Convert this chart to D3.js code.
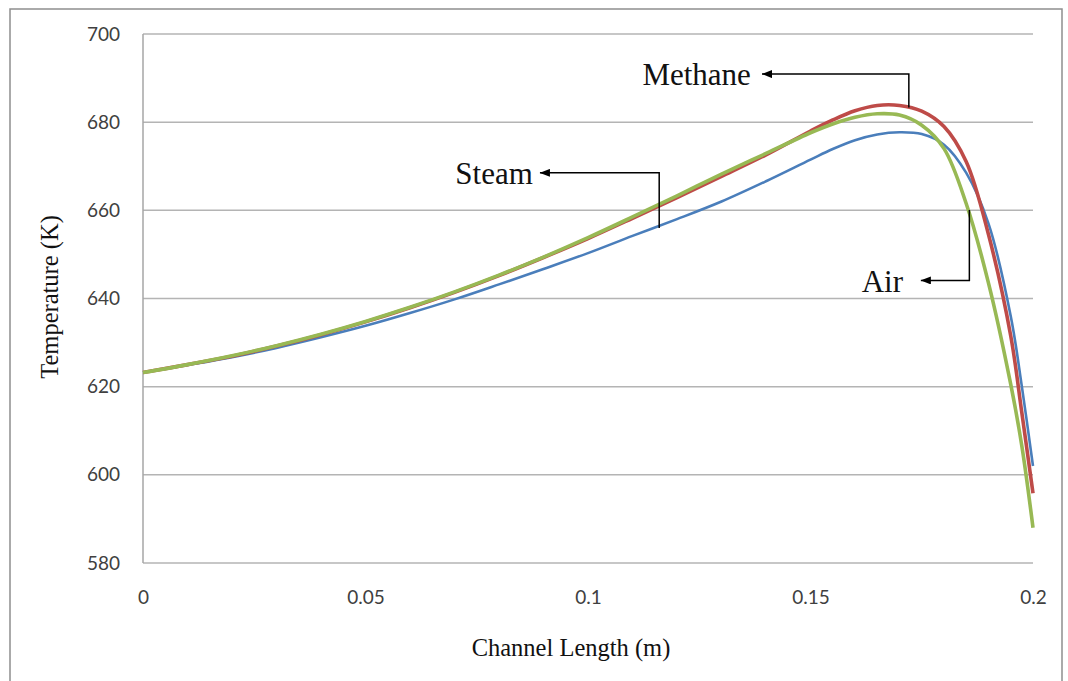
<!DOCTYPE html>
<html>
<head>
<meta charset="utf-8">
<script src="https://cdn.jsdelivr.net/npm/d3@7"></script>
<style>
  html, body { margin: 0; padding: 0; background: #fff; }
  svg { display: block; }
</style>
</head>
<body>
<svg id="chart" width="1068" height="681"></svg>
<script>
// Channel position (m) at which each temperature profile is sampled
const channelLength = [0, 0.01, 0.02, 0.03, 0.04, 0.05, 0.06, 0.07, 0.08, 0.09, 0.10,
  0.11, 0.12, 0.13, 0.14, 0.15, 0.155, 0.16, 0.165, 0.17, 0.175, 0.18, 0.185,
  0.19, 0.195, 0.1975, 0.2];

// Temperature profiles (K)
const steamTemp = [623.2, 624.9, 626.7, 628.8, 631.2, 633.8, 636.7, 639.8, 643.2, 646.7, 650.3,
  654.2, 658.0, 662.0, 666.6, 671.5, 673.9, 675.9, 677.2, 677.7, 677.3, 674.9, 668.5,
  657.0, 636.0, 620.0, 602.0];
const methaneTemp = [623.2, 625.0, 626.9, 629.2, 631.8, 634.7, 637.9, 641.4, 645.2, 649.3, 653.6,
  658.2, 662.9, 667.7, 672.6, 678.0, 680.5, 682.6, 683.8, 683.8, 682.5, 679.0, 671.0,
  654.5, 631.5, 614.0, 595.8];
const airTemp = [623.2, 625.0, 627.0, 629.3, 631.9, 634.8, 638.0, 641.5, 645.3, 649.4, 653.8,
  658.5, 663.3, 668.2, 672.9, 677.6, 679.6, 681.1, 681.9, 681.6, 679.3, 674.0, 661.5,
  643.5, 620.5, 606.5, 588.0];

// Axis ticks
const xTicks = [0, 0.05, 0.1, 0.15, 0.2];
const xTickLabels = ["0", "0.05", "0.1", "0.15", "0.2"];
const yTicks = [580, 600, 620, 640, 660, 680, 700];

// Callouts (data units): label's right end, arrow tip, elbow and end of the leader
const calloutNames = ["Methane", "Steam", "Air"];
const calloutLabelEnd = [0.1366, 0.0876, 0.1708];
const calloutTip = [[0.1391, 690.9], [0.0892, 668.5], [0.1748, 644.1]];
const calloutElbow = [[0.1721, 690.9], [0.1160, 668.5], [0.1857, 644.1]];
const calloutEnd = [[0.1721, 683.3], [0.1160, 656.0], [0.1857, 660.1]];

const svg = d3.select("#chart");
const plot = { left: 143, right: 1033, top: 34, bottom: 563 };

const x = d3.scaleLinear().domain([0, 0.2]).range([plot.left, plot.right]);
const y = d3.scaleLinear().domain([580, 700]).range([plot.bottom, plot.top]);

// Outer chart frame
svg.append("rect")
  .attr("x", 10).attr("y", 9).attr("width", 1052).attr("height", 700)
  .attr("fill", "none").attr("stroke", "#8e8e8e").attr("stroke-width", 1.5);

// Horizontal gridlines
svg.append("g").selectAll("line").data(yTicks).join("line")
  .attr("x1", plot.left).attr("x2", plot.right)
  .attr("y1", d => y(d)).attr("y2", d => y(d))
  .attr("stroke", "#b4b4b4").attr("stroke-width", 1.5);

// Vertical axis line
svg.append("line")
  .attr("x1", plot.left).attr("x2", plot.left).attr("y1", plot.top).attr("y2", plot.bottom)
  .attr("stroke", "#a6a6a6").attr("stroke-width", 1.5);

// Tick labels through D3 axes
const yAxis = svg.append("g").attr("transform", `translate(${plot.left},0)`)
  .call(d3.axisLeft(y).tickValues(yTicks).tickSize(0).tickPadding(23).tickFormat(d3.format("d")));
const xAxis = svg.append("g").attr("transform", `translate(0,${plot.bottom})`)
  .call(d3.axisBottom(x).tickValues(xTicks).tickSize(0).tickPadding(28)
    .tickFormat((d, i) => xTickLabels[i]));
[yAxis, xAxis].forEach(g => {
  g.select(".domain").remove();
  g.selectAll("text").attr("font-family", "Lato, 'Open Sans', sans-serif")
    .attr("font-size", 19).attr("fill", "#404040");
});

// Axis titles
const serif = "'Liberation Serif', 'Times New Roman', serif";
svg.append("text")
  .attr("x", 571).attr("y", 656)
  .attr("text-anchor", "middle")
  .attr("font-family", serif)
  .attr("font-size", 24.5).attr("fill", "#111")
  .text("Channel Length (m)");
svg.append("text")
  .attr("transform", "translate(58,297) rotate(-90)")
  .attr("text-anchor", "middle")
  .attr("font-family", serif)
  .attr("font-size", 24.5).attr("fill", "#111")
  .text("Temperature (K)");

// Temperature curves
const line = d3.line()
  .x((d, i) => x(channelLength[i]))
  .y(d => y(d))
  .curve(d3.curveCatmullRom.alpha(0.5));

const series = [
  { values: steamTemp, color: "#4a7ebb", width: 2.6 },
  { values: methaneTemp, color: "#be4b48", width: 3.6 },
  { values: airTemp, color: "#98b954", width: 3.6 }
];
svg.append("g").selectAll("path").data(series).join("path")
  .attr("d", d => line(d.values))
  .attr("fill", "none")
  .attr("stroke", d => d.color)
  .attr("stroke-width", d => d.width)
  .attr("stroke-linejoin", "round")
  .attr("stroke-linecap", "butt");

// Callouts: elbow leader with arrowhead pointing at the label
svg.append("defs").append("marker")
  .attr("id", "arrowhead")
  .attr("viewBox", "0 0 10 8")
  .attr("refX", 10).attr("refY", 4)
  .attr("markerWidth", 10).attr("markerHeight", 8)
  .attr("markerUnits", "userSpaceOnUse")
  .attr("orient", "auto")
  .append("path").attr("d", "M0,0 L10,4 L0,8 Z").attr("fill", "#000");

const callouts = svg.append("g");
calloutNames.forEach((name, i) => {
  const tip = calloutTip[i], elbow = calloutElbow[i], end = calloutEnd[i];
  callouts.append("path")
    .attr("d", `M${x(end[0])},${y(end[1])} L${x(elbow[0])},${y(elbow[1])} L${x(tip[0])},${y(tip[1])}`)
    .attr("fill", "none").attr("stroke", "#000").attr("stroke-width", 1.5)
    .attr("marker-end", "url(#arrowhead)");
  callouts.append("text")
    .attr("x", x(calloutLabelEnd[i])).attr("y", y(tip[1]))
    .attr("dy", "0.36em")
    .attr("text-anchor", "end")
    .attr("font-family", serif)
    .attr("font-size", 31).attr("fill", "#111")
    .text(name);
});
</script>
</body>
</html>
